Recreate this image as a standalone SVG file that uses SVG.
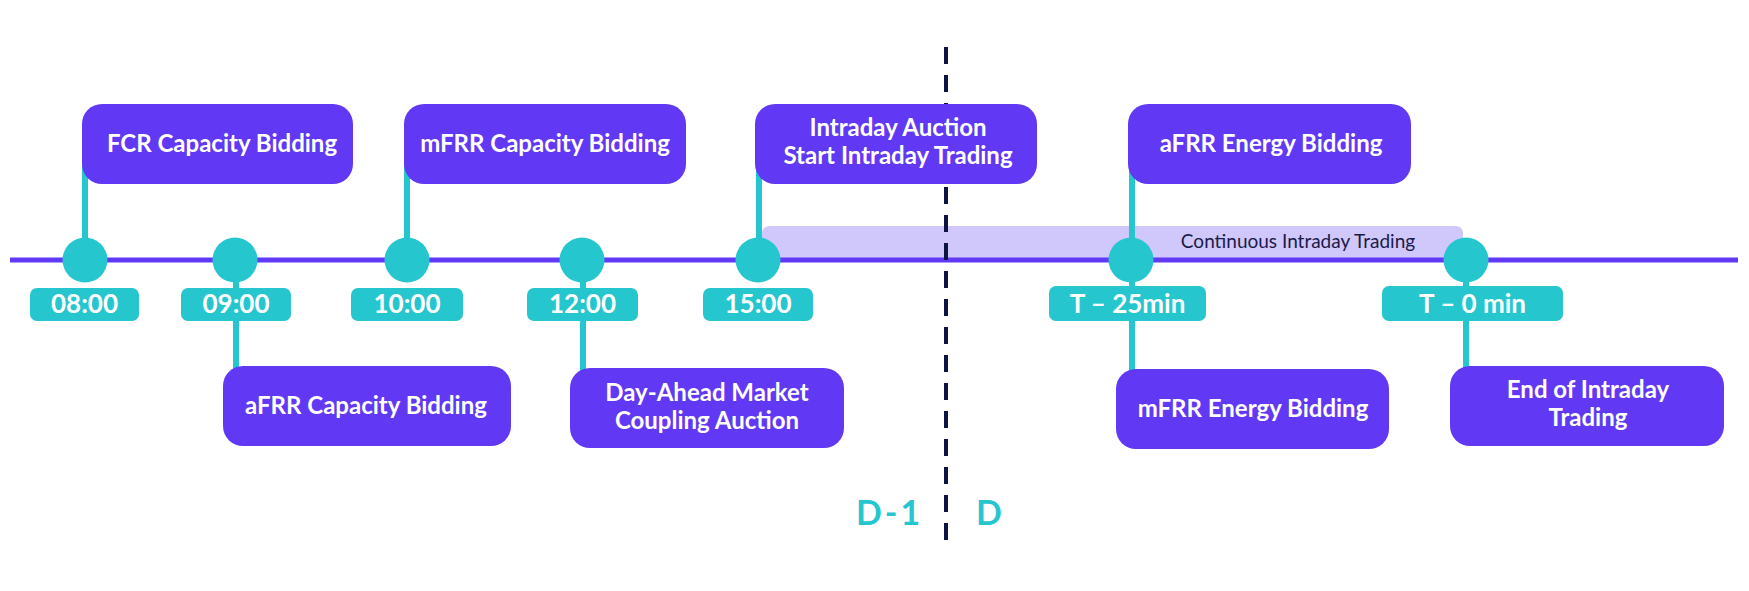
<svg xmlns="http://www.w3.org/2000/svg" width="1749" height="591" viewBox="0 0 1749 591">
<style>
.box{fill:#6139f5}
.conn{stroke:#26c6cf;stroke-width:6;fill:none}
.dot{fill:#26c6cf}
.tl{fill:#26c6cf}
.bt{font-family:Lato,"Open Sans","Liberation Sans",sans-serif;font-weight:700;font-size:24px;fill:#ffffff;text-anchor:middle}
.tt{font-family:Lato,"Open Sans","Liberation Sans",sans-serif;font-weight:700;font-size:26px;fill:#ffffff;text-anchor:middle}
.dd{font-family:Lato,"Open Sans","Liberation Sans",sans-serif;font-weight:700;font-size:34px;fill:#26c6cf}
</style>
<rect width="1749" height="591" fill="#ffffff"/>
<g id="band">
<path d="M762,260 V234 Q762,226 770,226 H1455 Q1463,226 1463,234 V260 Z" fill="#d0c7fa"/>
<text x="1298" y="248" font-family="Lato,'Liberation Sans',sans-serif" font-size="19" fill="#1a1a4a" text-anchor="middle">Continuous Intraday Trading</text>
</g>
<g id="connectors">
<line class="conn" x1="85" y1="150" x2="85" y2="255"/>
<line class="conn" x1="236" y1="260" x2="236" y2="370"/>
<line class="conn" x1="407" y1="150" x2="407" y2="255"/>
<line class="conn" x1="583" y1="260" x2="583" y2="372"/>
<line class="conn" x1="759" y1="150" x2="759" y2="255"/>
<line class="conn" x1="1132" y1="150" x2="1132" y2="372"/>
<line class="conn" x1="1466" y1="260" x2="1466" y2="370"/>
</g>
<g id="timeline">
<line x1="10" y1="260" x2="1738" y2="260" stroke="#6139f5" stroke-width="5"/>
<line x1="946" y1="47" x2="946" y2="543" stroke="#0b1442" stroke-width="4" stroke-dasharray="17 11"/>
</g>
<g id="dots">
<circle class="dot" cx="85" cy="260" r="22.5"/>
<circle class="dot" cx="235" cy="260" r="22.5"/>
<circle class="dot" cx="407" cy="260" r="22.5"/>
<circle class="dot" cx="582" cy="260" r="22.5"/>
<circle class="dot" cx="758" cy="260" r="22.5"/>
<circle class="dot" cx="1131" cy="260" r="22.5"/>
<circle class="dot" cx="1466" cy="260" r="22.5"/>
</g>
<g id="t0800"><rect class="tl" x="30" y="288" width="109" height="33" rx="7"/><text class="tt" x="84.5" y="313">08:00</text></g>
<g id="t0900"><rect class="tl" x="181" y="288" width="110" height="33" rx="7"/><text class="tt" x="236" y="313">09:00</text></g>
<g id="t1000"><rect class="tl" x="351" y="288" width="112" height="33" rx="7"/><text class="tt" x="407" y="313">10:00</text></g>
<g id="t1200"><rect class="tl" x="527" y="288" width="111" height="33" rx="7"/><text class="tt" x="582.5" y="313">12:00</text></g>
<g id="t1500"><rect class="tl" x="703" y="288" width="110" height="33" rx="7"/><text class="tt" x="758" y="313">15:00</text></g>
<g id="tm25"><rect class="tl" x="1049" y="286" width="157" height="35" rx="7"/><text class="tt" x="1127.5" y="313">T – 25min</text></g>
<g id="tm0"><rect class="tl" x="1382" y="286" width="181" height="35" rx="7"/><text class="tt" x="1472.5" y="313">T – 0 min</text></g>
<g id="fcr"><rect class="box" x="82" y="104" width="271" height="80" rx="20"/><text class="bt" x="222" y="152">FCR Capacity Bidding</text></g>
<g id="mfrrcap"><rect class="box" x="404" y="104" width="282" height="80" rx="20"/><text class="bt" x="545" y="152">mFRR Capacity Bidding</text></g>
<g id="intraday"><rect class="box" x="755" y="104" width="282" height="80" rx="20"/><text class="bt" x="898" y="136">Intraday Auction</text><text class="bt" x="898" y="164">Start Intraday Trading</text></g>
<g id="afrren"><rect class="box" x="1128" y="104" width="283" height="80" rx="20"/><text class="bt" x="1271" y="152">aFRR Energy Bidding</text></g>
<g id="afrrcap"><rect class="box" x="223" y="366" width="288" height="80" rx="20"/><text class="bt" x="366" y="414">aFRR Capacity Bidding</text></g>
<g id="dayahead"><rect class="box" x="570" y="368" width="274" height="80" rx="20"/><text class="bt" x="707" y="401">Day-Ahead Market</text><text class="bt" x="707" y="429">Coupling Auction</text></g>
<g id="mfrren"><rect class="box" x="1116" y="369" width="273" height="80" rx="20"/><text class="bt" x="1253" y="417">mFRR Energy Bidding</text></g>
<g id="endid"><rect class="box" x="1450" y="366" width="274" height="80" rx="20"/><text class="bt" x="1588" y="398">End of Intraday</text><text class="bt" x="1588" y="426">Trading</text></g>
<g id="days"><text class="dd" x="856" y="525" letter-spacing="3">D-1</text><text class="dd" x="976" y="525">D</text></g>
</svg>
